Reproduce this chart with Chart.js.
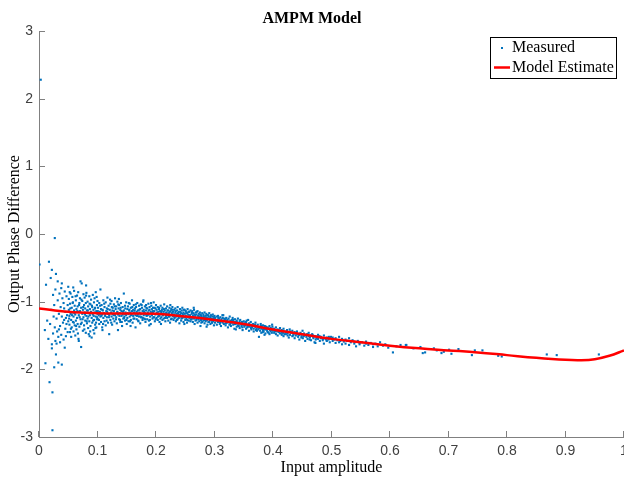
<!DOCTYPE html>
<html><head><meta charset="utf-8">
<script src="https://cdn.jsdelivr.net/npm/chart.js@4.4.1/dist/chart.umd.min.js"></script>
<style>html,body{margin:0;padding:0;background:#fff}#wrap{width:624px;height:482px}</style>
</head><body><div id="wrap"><canvas id="c" width="624" height="482"></canvas></div>
<script>
const chartTitle = 'AMPM Model';
const xAxisTitle = 'Input amplitude';
const yAxisTitle = 'Output Phase Difference';
const seriesNames = ['Measured', 'Model Estimate'];
const xTickValues = [0, 0.1, 0.2, 0.3, 0.4, 0.5, 0.6, 0.7, 0.8, 0.9, 1];
const yTickValues = [-3, -2, -1, 0, 1, 2, 3];

const modelX = [0, 0.05, 0.1, 0.15, 0.2, 0.25, 0.3, 0.35, 0.4, 0.45, 0.5, 0.55, 0.6, 0.65, 0.7, 0.75, 0.8, 0.85, 0.9, 0.925, 0.95, 0.975, 1];
const modelY = [-1.10, -1.15, -1.17, -1.175, -1.18, -1.22, -1.27, -1.33, -1.41, -1.48, -1.55, -1.60, -1.65, -1.69, -1.72, -1.75, -1.79, -1.83, -1.86, -1.865, -1.85, -1.80, -1.72];

const measuredA = [[0.003,2.28],[0.001,-0.45],[0.027,-0.06],[0.017,-0.41],[0.022,-0.53],[0.020,-0.65],[0.029,-0.59],[0.032,-0.70],[0.039,-0.73],[0.012,-0.75],[0.024,-0.90],[0.010,-1.42],[0.022,-1.63],[0.030,-1.62],[0.036,-1.60],[0.022,-1.69],[0.044,-1.68],[0.029,-1.78],[0.011,-1.91],[0.033,-1.90],[0.039,-1.93],[0.026,-1.97],[0.018,-2.19],[0.023,-2.34],[0.023,-2.90],
[0.014,-1.28],[0.016,-1.55],[0.019,-1.33],[0.021,-1.12],[0.024,-1.47],[0.026,-1.05],[0.027,-1.38],[0.028,-0.82],[0.030,-1.25],[0.031,-1.44],[0.032,-0.98],[0.033,-1.52],[0.034,-1.18],[0.035,-0.88],[0.036,-1.36],[0.037,-1.08],[0.038,-1.49],[0.039,-1.22],[0.040,-0.95],[0.041,-1.31],[0.042,-1.56],[0.042,-1.02],[0.043,-1.27],[0.044,-0.85],[0.045,-1.40],[0.045,-1.15],[0.046,-1.51],[0.047,-0.92],[0.047,-1.33],[0.048,-1.20],[0.049,-1.45],[0.049,-1.05],[0.050,-0.78],[0.050,-1.29],[0.025,-1.22],[0.028,-1.58],[0.034,-1.41],[0.038,-0.80],[0.043,-1.10],[0.046,-1.24]];

const measuredB = [[0.051,-1.12],[0.051,-0.96],[0.052,-1.34],[0.052,-1.21],[0.053,-1.45],[0.053,-1.03],[0.054,-1.18],[0.054,-0.88],[0.055,-1.52],[0.055,-1.27],[0.056,-1.09],[0.056,-1.38],[0.057,-0.93],[0.057,-1.16],[0.058,-1.30],[0.058,-1.01],[0.059,-1.22],[0.059,-1.44],[0.060,-0.84],[0.060,-1.13],[0.061,-1.35],[0.061,-1.06],[0.062,-1.50],[0.062,-1.19],[0.063,-0.98],[0.063,-1.28],[0.064,-1.11],[0.064,-1.41],[0.065,-0.91],[0.065,-1.24],[0.066,-1.07],[0.066,-1.33],[0.067,-1.15],[0.067,-0.86],[0.068,-1.58],[0.068,-1.20],[0.069,-1.02],[0.069,-1.37],[0.070,-1.14],[0.070,-0.95],[0.071,-0.70],[0.071,-1.26],[0.072,-1.67],[0.072,-1.09],[0.073,-0.73],[0.073,-1.31],[0.074,-1.18],[0.074,-0.99],[0.075,-1.43],[0.075,-1.12],[0.076,-0.89],[0.076,-1.23],[0.077,-1.05],[0.077,-1.35],[0.078,-1.16],[0.078,-0.94],[0.079,-1.28],[0.079,-1.10],[0.080,-1.46],[0.080,-1.02],[0.081,-1.21],[0.081,-0.87],[0.082,-1.32],[0.082,-1.13],[0.083,-1.00],[0.083,-1.25],[0.084,-1.39],[0.084,-1.07],[0.085,-1.48],[0.085,-1.17],[0.086,-0.92],[0.086,-1.29],[0.087,-1.11],[0.087,-1.20],[0.088,-1.04],[0.088,-1.36],[0.089,-1.15],[0.089,-0.97],[0.090,-1.53],[0.090,-1.24],[0.091,-1.08],[0.091,-1.31],[0.092,-0.90],[0.092,-1.19],[0.093,-1.42],[0.093,-1.12],[0.094,-1.01],[0.094,-1.27],[0.095,-1.16],[0.095,-0.95],[0.096,-1.34],[0.096,-1.09],[0.097,-1.22],[0.097,-0.86],[0.098,-1.38],[0.098,-1.14],[0.099,-1.05],[0.099,-1.26],[0.100,-1.18],[0.100,-0.99]];

const measuredC = [[0.101,-1.09],[0.101,-1.26],[0.102,-1.20],[0.103,-1.02],[0.103,-1.33],[0.104,-1.15],[0.105,-0.82],[0.105,-1.22],[0.106,-1.11],[0.106,-1.30],[0.107,-1.05],[0.108,-1.19],[0.108,-1.38],[0.109,-1.13],[0.110,-0.98],[0.110,-1.24],[0.111,-1.17],[0.112,-1.08],[0.112,-1.29],[0.113,-1.21],[0.114,-1.01],[0.114,-1.35],[0.115,-1.14],[0.116,-1.23],[0.116,-1.10],[0.117,-0.94],[0.118,-1.18],[0.118,-1.31],[0.119,-1.06],[0.120,-1.48],[0.120,-1.20],[0.121,-1.12],[0.122,-1.27],[0.122,-1.03],[0.123,-1.16],[0.124,-0.99],[0.124,-1.22],[0.125,-1.34],[0.126,-1.09],[0.126,-1.18],[0.127,-1.25],[0.128,-1.04],[0.128,-1.14],[0.129,-1.29],[0.130,-0.95],[0.130,-1.20],[0.131,-1.11],[0.132,-1.23],[0.132,-1.07],[0.133,-1.32],[0.134,-1.15],[0.134,-1.00],[0.135,-1.42],[0.135,-1.19],[0.136,-1.10],[0.137,-1.26],[0.137,-1.05],[0.138,-1.17],[0.139,-1.12],[0.139,-1.30],[0.140,-1.02],[0.141,-1.21],[0.141,-1.14],[0.142,-1.36],[0.143,-1.08],[0.143,-1.19],[0.144,-1.25],[0.145,-0.88],[0.145,-1.13],[0.146,-1.22],[0.147,-1.06],[0.147,-1.28],[0.148,-1.16],[0.149,-1.01],[0.149,-1.20],[0.150,-1.33],[0.151,-1.11],[0.151,-1.24],[0.152,-1.07],[0.153,-1.18],[0.153,-1.29],[0.154,-1.13],[0.155,-1.03],[0.155,-1.22],[0.156,-1.16],[0.157,-1.27],[0.157,-1.09],[0.158,-1.19],[0.159,-0.98],[0.159,-1.14],[0.160,-1.31],[0.161,-1.12],[0.161,-1.21],[0.162,-1.05],[0.163,-1.25],[0.163,-1.17],[0.164,-1.10],[0.165,-1.38],[0.165,-1.20],[0.166,-1.08],[0.167,-1.15],[0.167,-1.26],[0.168,-1.02],[0.169,-1.19],[0.169,-1.13],[0.170,-1.29],[0.171,-1.06],[0.171,-1.22],[0.172,-1.16],[0.173,-1.11],[0.173,-1.32],[0.174,-1.04],[0.175,-1.23],[0.175,-1.18],[0.176,-1.09],[0.177,-1.27],[0.177,-1.14],[0.178,-1.00],[0.179,-1.20],[0.179,-1.12],[0.180,-1.25],[0.181,-1.07],[0.181,-1.17],[0.182,-1.30],[0.183,-1.13],[0.183,-1.05],[0.184,-1.21],[0.185,-1.10],[0.185,-1.26],[0.186,-1.16],[0.187,-1.03],[0.187,-1.19],[0.188,-1.28],[0.189,-1.12],[0.189,-1.08],[0.190,-1.22],[0.191,-1.15],[0.191,-1.33],[0.192,-1.06],[0.193,-1.20],[0.193,-1.11],[0.194,-1.25],[0.195,-1.09],[0.195,-1.17],[0.196,-1.01],[0.197,-1.23],[0.197,-1.14],[0.198,-1.29],[0.199,-1.10],[0.199,-1.19],[0.200,-1.05]];

const measuredD = [[0.201,-1.12],[0.201,-1.24],[0.202,-1.18],[0.203,-1.08],[0.203,-1.27],[0.204,-1.15],[0.205,-1.21],[0.205,-1.11],[0.206,-1.30],[0.207,-1.14],[0.207,-1.19],[0.208,-1.06],[0.209,-1.23],[0.209,-1.16],[0.210,-1.12],[0.211,-1.27],[0.211,-1.09],[0.212,-1.20],[0.213,-1.15],[0.213,-1.25],[0.214,-1.04],[0.215,-1.18],[0.215,-1.13],[0.216,-1.29],[0.217,-1.10],[0.217,-1.21],[0.218,-1.16],[0.219,-1.24],[0.219,-1.07],[0.220,-1.19],[0.221,-1.13],[0.221,-1.28],[0.222,-1.17],[0.223,-1.09],[0.223,-1.22],[0.224,-1.31],[0.225,-1.14],[0.225,-1.20],[0.226,-1.11],[0.227,-1.25],[0.227,-1.17],[0.228,-1.08],[0.229,-1.21],[0.229,-1.15],[0.230,-1.27],[0.231,-1.12],[0.231,-1.19],[0.232,-1.23],[0.233,-1.16],[0.233,-1.10],[0.234,-1.29],[0.235,-1.18],[0.235,-1.22],[0.236,-1.13],[0.237,-1.26],[0.237,-1.08],[0.238,-1.20],[0.239,-1.15],[0.239,-1.24],[0.240,-1.32],[0.241,-1.11],[0.241,-1.19],[0.242,-1.22],[0.243,-1.17],[0.243,-1.28],[0.244,-1.13],[0.245,-1.24],[0.245,-1.09],[0.246,-1.20],[0.247,-1.16],[0.247,-1.30],[0.248,-1.23],[0.249,-1.12],[0.249,-1.18],[0.250,-1.27],[0.251,-1.21],[0.251,-1.14],[0.252,-1.25],[0.253,-1.17],[0.253,-1.31],[0.254,-1.11],[0.255,-1.22],[0.255,-1.19],[0.256,-1.28],[0.257,-1.15],[0.257,-1.24],[0.258,-1.20],[0.259,-1.13],[0.259,-1.29],[0.260,-1.23],[0.261,-1.18],[0.261,-1.26],[0.262,-1.14],[0.263,-1.30],[0.263,-1.21],[0.264,-1.17],[0.265,-1.25],[0.265,-1.12],[0.266,-1.33],[0.267,-1.20],[0.267,-1.23],[0.268,-1.16],[0.269,-1.27],[0.269,-1.19],[0.270,-1.24],[0.271,-1.14],[0.271,-1.31],[0.272,-1.21],[0.273,-1.26],[0.273,-1.18],[0.274,-1.29],[0.275,-1.16],[0.275,-1.23],[0.276,-1.36],[0.277,-1.20],[0.277,-1.27],[0.278,-1.22],[0.279,-1.17],[0.279,-1.30],[0.280,-1.25],[0.281,-1.19],[0.281,-1.28],[0.282,-1.23],[0.283,-1.32],[0.283,-1.16],[0.284,-1.26],[0.285,-1.21],[0.285,-1.29],[0.286,-1.18],[0.287,-1.27],[0.287,-1.24],[0.288,-1.34],[0.289,-1.20],[0.289,-1.25],[0.290,-1.22],[0.291,-1.30],[0.291,-1.17],[0.292,-1.27],[0.293,-1.23],[0.293,-1.33],[0.294,-1.20],[0.295,-1.28],[0.295,-1.25],[0.296,-1.31],[0.297,-1.22],[0.297,-1.19],[0.298,-1.29],[0.299,-1.25],[0.299,-1.35],[0.300,-1.21]];

const measuredE = [[0.301,-1.24],[0.301,-1.31],[0.303,-1.28],[0.304,-1.22],[0.304,-1.34],[0.305,-1.27],[0.306,-1.30],[0.306,-1.21],[0.308,-1.25],[0.309,-1.33],[0.309,-1.28],[0.310,-1.23],[0.311,-1.29],[0.311,-1.36],[0.312,-1.26],[0.314,-1.24],[0.314,-1.31],[0.315,-1.20],[0.316,-1.28],[0.316,-1.33],[0.318,-1.26],[0.319,-1.35],[0.319,-1.29],[0.320,-1.24],[0.322,-1.31],[0.322,-1.27],[0.323,-1.38],[0.324,-1.25],[0.324,-1.30],[0.326,-1.22],[0.327,-1.33],[0.327,-1.28],[0.328,-1.36],[0.330,-1.27],[0.330,-1.31],[0.331,-1.24],[0.332,-1.34],[0.332,-1.29],[0.334,-1.40],[0.335,-1.30],[0.335,-1.26],[0.336,-1.33],[0.338,-1.28],[0.338,-1.37],[0.339,-1.31],[0.340,-1.25],[0.340,-1.35],[0.342,-1.32],[0.343,-1.29],[0.343,-1.39],[0.344,-1.27],[0.346,-1.36],[0.346,-1.33],[0.347,-1.30],[0.348,-1.42],[0.348,-1.34],[0.350,-1.29],[0.351,-1.37],[0.351,-1.32],[0.352,-1.35],[0.354,-1.31],[0.354,-1.40],[0.355,-1.28],[0.356,-1.38],[0.356,-1.34],[0.358,-1.36],[0.359,-1.32],[0.359,-1.43],[0.360,-1.37],[0.362,-1.34],[0.362,-1.30],[0.363,-1.41],[0.364,-1.36],[0.364,-1.38],[0.366,-1.33],[0.367,-1.40],[0.367,-1.44],[0.368,-1.35],[0.370,-1.38],[0.370,-1.31],[0.371,-1.42],[0.372,-1.36],[0.372,-1.40],[0.374,-1.34],[0.375,-1.41],[0.375,-1.38],[0.376,-1.52],[0.378,-1.37],[0.378,-1.43],[0.379,-1.33],[0.380,-1.40],[0.380,-1.46],[0.382,-1.38],[0.383,-1.35],[0.383,-1.42],[0.384,-1.44],[0.386,-1.39],[0.386,-1.36],[0.387,-1.47],[0.388,-1.41],[0.388,-1.37],[0.390,-1.43],[0.391,-1.38],[0.391,-1.45],[0.392,-1.40],[0.394,-1.36],[0.394,-1.48],[0.395,-1.42],[0.396,-1.44],[0.396,-1.39],[0.398,-1.46],[0.399,-1.41],[0.399,-1.37],[0.400,-1.43]];

const measuredF = [[0.402,-1.40],[0.402,-1.46],[0.404,-1.43],[0.405,-1.38],[0.405,-1.48],[0.407,-1.44],[0.408,-1.41],[0.408,-1.50],[0.410,-1.45],[0.412,-1.39],[0.412,-1.47],[0.413,-1.43],[0.415,-1.49],[0.415,-1.42],[0.417,-1.46],[0.418,-1.40],[0.418,-1.51],[0.420,-1.44],[0.422,-1.48],[0.422,-1.45],[0.424,-1.42],[0.425,-1.50],[0.425,-1.47],[0.427,-1.53],[0.429,-1.44],[0.429,-1.49],[0.431,-1.46],[0.433,-1.51],[0.433,-1.43],[0.435,-1.48],[0.437,-1.45],[0.437,-1.54],[0.439,-1.50],[0.441,-1.47],[0.441,-1.44],[0.443,-1.52],[0.445,-1.49],[0.445,-1.56],[0.447,-1.46],[0.449,-1.51],[0.449,-1.48],[0.451,-1.54],[0.453,-1.47],[0.453,-1.50],[0.455,-1.58],[0.457,-1.52],[0.457,-1.49],[0.459,-1.55],[0.461,-1.46],[0.461,-1.51],[0.463,-1.53],[0.465,-1.50],[0.465,-1.57],[0.467,-1.48],[0.469,-1.54],[0.469,-1.52],[0.471,-1.60],[0.473,-1.51],[0.473,-1.56],[0.475,-1.53],[0.477,-1.49],[0.477,-1.55],[0.480,-1.58],[0.482,-1.52],[0.482,-1.54],[0.485,-1.57],[0.487,-1.50],[0.487,-1.62],[0.490,-1.55],[0.492,-1.53],[0.492,-1.58],[0.495,-1.56],[0.497,-1.60],[0.497,-1.54],[0.499,-1.52]];

const measuredG = [[0.502,-1.53],[0.502,-1.58],[0.505,-1.56],[0.507,-1.61],[0.507,-1.54],[0.510,-1.57],[0.513,-1.52],[0.513,-1.60],[0.515,-1.58],[0.518,-1.63],[0.518,-1.55],[0.521,-1.59],[0.524,-1.56],[0.524,-1.62],[0.527,-1.58],[0.530,-1.54],[0.530,-1.64],[0.533,-1.60],[0.536,-1.57],[0.539,-1.62],[0.539,-1.59],[0.542,-1.66],[0.545,-1.58],[0.548,-1.61],[0.548,-1.63],[0.552,-1.60],[0.556,-1.65],[0.559,-1.59],[0.559,-1.62],[0.563,-1.64],[0.567,-1.61],[0.571,-1.67],[0.571,-1.63],[0.575,-1.62],[0.579,-1.66],[0.583,-1.60],[0.588,-1.65],[0.592,-1.63],[0.597,-1.68],[0.605,-1.75],[0.611,-1.66],[0.618,-1.64],[0.627,-1.64]];

const measuredH = [[0.623,-1.67],[0.628,-1.64],[0.640,-1.69],[0.652,-1.67],[0.656,-1.76],[0.660,-1.75],[0.675,-1.69],[0.680,-1.72],[0.688,-1.76],[0.692,-1.74],[0.701,-1.71],[0.705,-1.77],[0.717,-1.70],[0.740,-1.79],[0.745,-1.72],[0.758,-1.72],[0.785,-1.80],[0.791,-1.81],[0.868,-1.78],[0.885,-1.79],[0.957,-1.78]];

const measuredExtraLow = [[0.0515,-1.25],[0.0535,-1.10],[0.0545,-1.40],[0.0565,-1.20],[0.0575,-1.02],[0.0595,-1.31],[0.0605,-1.17],[0.0625,-0.92],[0.0635,-1.36],[0.0655,-1.14],[0.0665,-1.47],[0.0685,-1.05],[0.0695,-1.23],[0.0715,-1.33],[0.0725,-0.97],[0.0745,-1.26],[0.0755,-1.08],[0.0775,-1.41],[0.0785,-1.19],[0.0805,-0.91],[0.0815,-1.29],[0.0835,-1.13],[0.0845,-1.22],[0.0865,-1.03],[0.0875,-1.44],[0.0895,-1.17],[0.0905,-1.06],[0.0925,-1.28],[0.0935,-1.21],[0.0955,-1.10],[0.0965,-1.39],[0.0985,-0.93],[0.0995,-1.23],[0.0585,-0.79],[0.0675,-1.55],[0.0805,-0.76],[0.0865,-1.51],[0.0945,-1.47],[0.0525,-0.86],[0.0975,-1.31],
[0.1005,-1.14],[0.1025,-1.27],[0.1045,-1.06],[0.1065,-1.21],[0.1085,-1.12],[0.1095,-1.33],[0.1115,-1.03],[0.1135,-1.18],[0.1155,-1.28],[0.1175,-1.11],[0.1195,-1.23],[0.1215,-0.97],[0.1235,-1.31],[0.1255,-1.13],[0.1275,-1.20],[0.1295,-1.07],[0.1315,-1.26],[0.1335,-1.16],[0.1355,-1.04],[0.1375,-1.21],[0.1395,-1.09],[0.1415,-1.30],[0.1435,-1.15],[0.1455,-1.24],[0.1475,-1.10],[0.1495,-1.27],[0.1515,-1.17],[0.1535,-1.02],[0.1555,-1.29],[0.1575,-1.20],[0.1595,-1.08],[0.1615,-1.25],[0.1635,-1.13],[0.1655,-1.04],[0.1675,-1.21],[0.1695,-1.28],[0.1715,-1.12],[0.1735,-1.19],[0.1755,-1.05],[0.1775,-1.24],[0.1795,-1.15],[0.1815,-1.26],[0.1835,-1.09],[0.1855,-1.20],[0.1875,-1.13],[0.1895,-1.27],[0.1915,-1.02],[0.1935,-1.17],[0.1955,-1.23],[0.1975,-1.09],[0.1995,-1.26],[0.1045,-1.18],[0.1165,-1.15],[0.1245,-1.08],[0.1385,-1.27],[0.1465,-1.18],[0.1545,-1.12],[0.1625,-1.16],[0.1745,-1.23],[0.1825,-1.19],[0.1945,-1.14],[0.1085,-1.42],[0.1365,-0.96],[0.1565,-1.36],[0.1785,-0.98],[0.1885,-1.35]];

const measuredExtraHigh = [[0.2015,-1.16],[0.2035,-1.22],[0.2055,-1.09],[0.2075,-1.25],[0.2095,-1.14],[0.2115,-1.20],[0.2135,-1.11],[0.2155,-1.24],[0.2175,-1.17],[0.2195,-1.13],[0.2215,-1.22],[0.2235,-1.15],[0.2255,-1.26],[0.2275,-1.12],[0.2295,-1.19],[0.2315,-1.24],[0.2335,-1.14],[0.2355,-1.27],[0.2375,-1.17],[0.2395,-1.21],[0.2415,-1.15],[0.2435,-1.25],[0.2455,-1.18],[0.2475,-1.12],[0.2495,-1.23],[0.2515,-1.17],[0.2535,-1.27],[0.2555,-1.15],[0.2575,-1.21],[0.2595,-1.26],[0.2615,-1.16],[0.2635,-1.24],[0.2655,-1.19],[0.2675,-1.28],[0.2695,-1.15],[0.2715,-1.25],[0.2735,-1.22],[0.2755,-1.19],[0.2775,-1.31],[0.2795,-1.24],[0.2815,-1.21],[0.2835,-1.27],[0.2855,-1.24],[0.2875,-1.20],[0.2895,-1.30],[0.2915,-1.25],[0.2935,-1.21],[0.2955,-1.31],[0.2975,-1.26],[0.2995,-1.23],[0.2245,-1.05],[0.2485,-1.33],[0.2645,-1.09],[0.2865,-1.37],[0.2085,-1.33],
[0.3025,-1.27],[0.3065,-1.24],[0.3095,-1.31],[0.3125,-1.29],[0.3165,-1.25],[0.3195,-1.32],[0.3215,-1.28],[0.3255,-1.34],[0.3285,-1.30],[0.3315,-1.27],[0.3345,-1.33],[0.3375,-1.30],[0.3415,-1.36],[0.3445,-1.32],[0.3475,-1.38],[0.3505,-1.34],[0.3535,-1.30],[0.3565,-1.37],[0.3595,-1.35],[0.3625,-1.39],[0.3655,-1.36],[0.3695,-1.34],[0.3725,-1.43],[0.3765,-1.39],[0.3795,-1.36],[0.3825,-1.45],[0.3855,-1.41],[0.3895,-1.39],[0.3925,-1.46],[0.3965,-1.42],[0.3135,-1.20],[0.3365,-1.41],[0.3575,-1.27],[0.3855,-1.49],[0.3985,-1.34],
[0.4035,-1.44],[0.4095,-1.42],[0.4145,-1.46],[0.4195,-1.48],[0.4235,-1.45],[0.4285,-1.41],[0.4345,-1.50],[0.4385,-1.47],[0.4435,-1.49],[0.4485,-1.53],[0.4525,-1.51],[0.4585,-1.48],[0.4625,-1.56],[0.4685,-1.50],[0.4745,-1.54],[0.4795,-1.51],[0.4855,-1.55],[0.4915,-1.57],[0.4955,-1.52],[0.4505,-1.43],[0.4725,-1.61]];

const measuredPairs = [].concat(measuredA, measuredB, measuredC, measuredD, measuredE, measuredF, measuredG, measuredH, measuredExtraLow, measuredExtraHigh);

const AXIS_GRAY = '#808080';
const LABEL_GRAY = '#404040';
const BLUE = '#0072BD';
const RED = '#FF0000';

const tickMarks = {
  id: 'tickMarks',
  beforeDatasetsDraw(chart) {
    const ctx = chart.ctx, a = chart.chartArea, xs = chart.scales.x, ys = chart.scales.y;
    ctx.save();
    ctx.strokeStyle = AXIS_GRAY; ctx.lineWidth = 1;
    ctx.beginPath();
    xs.ticks.forEach(t => { const p = Math.round(xs.getPixelForValue(t.value)) - 0.5; ctx.moveTo(p, a.bottom); ctx.lineTo(p, a.bottom - 6); });
    ys.ticks.forEach(t => { const p = Math.round(ys.getPixelForValue(t.value)) + 0.5; ctx.moveTo(a.left, p); ctx.lineTo(a.left + 6, p); });
    ctx.stroke();
    ctx.restore();
  }
};

const boxLegend = {
  id: 'boxLegend',
  afterDraw(chart) {
    const ctx = chart.ctx;
    const ds = chart.data.datasets;
    const bx = 490.5, by = 37.5, bw = 126, bh = 41;
    ctx.save();
    ctx.fillStyle = '#fff'; ctx.fillRect(bx, by, bw, bh);
    ctx.strokeStyle = '#000'; ctx.lineWidth = 1; ctx.strokeRect(bx, by, bw, bh);
    ctx.font = '16px "Liberation Serif", "Times New Roman", serif';
    ctx.fillStyle = '#000'; ctx.textBaseline = 'middle'; ctx.textAlign = 'left';
    const scatter = ds.find(d => d.label === seriesNames[0]);
    const model = ds.find(d => d.label === seriesNames[1]);
    ctx.fillStyle = scatter.backgroundColor; ctx.fillRect(501, 47, 2, 2);
    ctx.fillStyle = '#000'; ctx.fillText(scatter.label, 512, 48);
    ctx.strokeStyle = model.borderColor; ctx.lineWidth = 2.5;
    ctx.beginPath(); ctx.moveTo(494, 67.5); ctx.lineTo(510, 67.5); ctx.stroke();
    ctx.fillText(model.label, 512, 67.5);
    ctx.restore();
  }
};

new Chart(document.getElementById('c'), {
  type: 'scatter',
  data: {
    datasets: [
      {
        label: seriesNames[1],
        data: modelX.map((x, i) => ({ x: x, y: modelY[i] })),
        showLine: true, borderColor: RED, borderWidth: 2.5, pointRadius: 0, pointHoverRadius: 0, pointHitRadius: 0, tension: 0.4, order: 0
      },
      {
        label: seriesNames[0],
        data: measuredPairs.map(p => ({ x: p[0], y: p[1] })),
        pointStyle: 'rect', pointRadius: 1.5, pointHoverRadius: 1.5, borderWidth: 0, backgroundColor: BLUE, borderColor: BLUE, order: 1
      }
    ]
  },
  options: {
    responsive: false, animation: false, devicePixelRatio: 1,
    layout: { autoPadding: false, padding: { left: 0, right: 0, top: 0, bottom: 0 } },
    plugins: {
      legend: { display: false }, tooltip: { enabled: false },
      title: { display: true, text: chartTitle, color: '#000',
        font: { family: '"Liberation Serif", "Times New Roman", serif', size: 16, weight: 'bold' },
        padding: { top: 9, bottom: 2.8 } }
    },
    scales: {
      x: {
        type: 'linear', min: 0, max: 1,
        afterBuildTicks: s => { s.ticks = xTickValues.map(v => ({ value: v })); },
        afterFit: s => { s.height = 45; s.paddingLeft = 0; s.paddingRight = 0; },
        grid: { display: false, drawTicks: false },
        border: { display: true, color: AXIS_GRAY, width: 1 },
        ticks: { padding: 6, color: LABEL_GRAY, maxRotation: 0, autoSkip: false,
          font: { family: '"Liberation Sans", Arial, sans-serif', size: 14 },
          callback: v => String(v) },
        title: { display: true, text: xAxisTitle, color: '#000',
          font: { family: '"Liberation Serif", "Times New Roman", serif', size: 16 },
          padding: { top: 0, bottom: 5 } }
      },
      y: {
        type: 'linear', min: -3, max: 3,
        afterBuildTicks: s => { s.ticks = yTickValues.map(v => ({ value: v })); },
        afterFit: s => { s.width = 39; s.paddingTop = 0; s.paddingBottom = 0; },
        grid: { display: false, drawTicks: false },
        border: { display: true, color: AXIS_GRAY, width: 1 },
        ticks: { padding: 6, color: LABEL_GRAY, autoSkip: false,
          font: { family: '"Liberation Sans", Arial, sans-serif', size: 14 },
          callback: v => String(v) },
        title: { display: true, text: yAxisTitle, color: '#000',
          font: { family: '"Liberation Serif", "Times New Roman", serif', size: 16 },
          padding: { top: 5, bottom: 0 } }
      }
    }
  },
  plugins: [tickMarks, boxLegend]
});
</script>
</body></html>
